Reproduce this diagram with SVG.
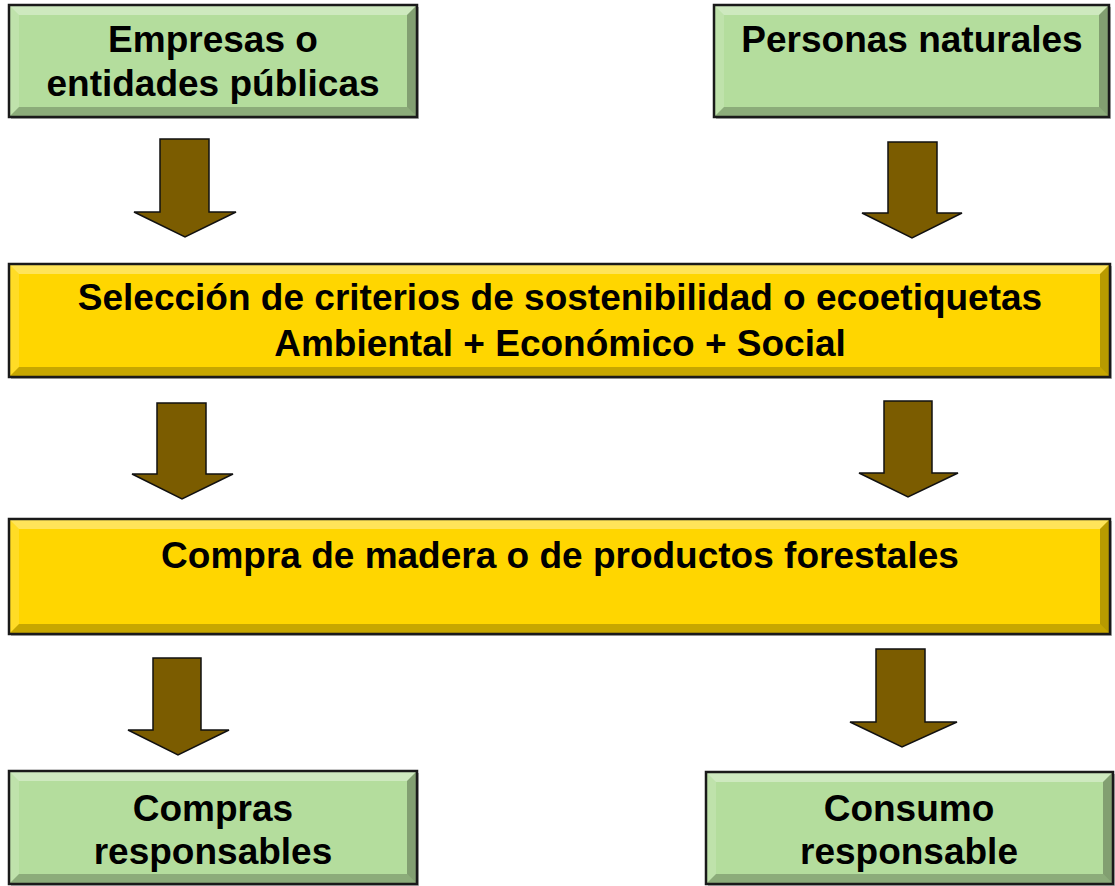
<svg xmlns="http://www.w3.org/2000/svg" width="1115" height="886" viewBox="0 0 1115 886">
<style>
.green{fill:#b4dd9d}
.yellow{fill:#ffd600}
.frame{fill:none;stroke:#1a1a1a;stroke-width:2.5}
.shadow{fill:#7f7f7f;opacity:.55}
.bt{fill:#ffffff;opacity:.35}
.bl{fill:#ffffff;opacity:.15}
.br{fill:#000000;opacity:.28}
.bb{fill:#000000;opacity:.22}
.lbl{font-family:"Liberation Sans",Arial,sans-serif;font-weight:bold;font-size:37px;fill:#000;text-anchor:middle}
.arrow{fill:#7b5c00;stroke:#111;stroke-width:1.5;stroke-linejoin:miter}
</style>
<rect width="1115" height="886" fill="#ffffff"/>
<g id="n1">
<rect class="shadow" x="11" y="7" width="408" height="112"/>
<rect class="green" x="9" y="5" width="408" height="112"/>
<polygon class="bt" points="9,5 417,5 407,15 19,15"/>
<polygon class="bl" points="9,5 19,15 19,107 9,117"/>
<polygon class="br" points="417,5 417,117 407,107 407,15"/>
<polygon class="bb" points="9,117 19,107 407,107 417,117"/>
<rect class="frame" x="9" y="5" width="408" height="112"/>
<text class="lbl" x="213" y="52">Empresas o</text>
<text class="lbl" x="213" y="96">entidades públicas</text>
</g>
<g id="n2">
<rect class="shadow" x="716" y="7" width="395" height="112"/>
<rect class="green" x="714" y="5" width="395" height="112"/>
<polygon class="bt" points="714,5 1109,5 1099,15 724,15"/>
<polygon class="bl" points="714,5 724,15 724,107 714,117"/>
<polygon class="br" points="1109,5 1109,117 1099,107 1099,15"/>
<polygon class="bb" points="714,117 724,107 1099,107 1109,117"/>
<rect class="frame" x="714" y="5" width="395" height="112"/>
<text class="lbl" x="912" y="52">Personas naturales</text>
</g>
<g id="n3">
<rect class="shadow" x="11" y="266" width="1101" height="113"/>
<rect class="yellow" x="9" y="264" width="1101" height="113"/>
<polygon class="bt" points="9,264 1110,264 1100,274 19,274"/>
<polygon class="bl" points="9,264 19,274 19,367 9,377"/>
<polygon class="br" points="1110,264 1110,377 1100,367 1100,274"/>
<polygon class="bb" points="9,377 19,367 1100,367 1110,377"/>
<rect class="frame" x="9" y="264" width="1101" height="113"/>
<text class="lbl" x="560" y="310">Selección de criterios de sostenibilidad o ecoetiquetas</text>
<text class="lbl" x="560" y="356">Ambiental + Económico + Social</text>
</g>
<g id="n4">
<rect class="shadow" x="11" y="521" width="1101" height="115"/>
<rect class="yellow" x="9" y="519" width="1101" height="115"/>
<polygon class="bt" points="9,519 1110,519 1100,529 19,529"/>
<polygon class="bl" points="9,519 19,529 19,624 9,634"/>
<polygon class="br" points="1110,519 1110,634 1100,624 1100,529"/>
<polygon class="bb" points="9,634 19,624 1100,624 1110,634"/>
<rect class="frame" x="9" y="519" width="1101" height="115"/>
<text class="lbl" x="560" y="568">Compra de madera o de productos forestales</text>
</g>
<g id="n5">
<rect class="shadow" x="11" y="773" width="408" height="113"/>
<rect class="green" x="9" y="771" width="408" height="113"/>
<polygon class="bt" points="9,771 417,771 407,781 19,781"/>
<polygon class="bl" points="9,771 19,781 19,874 9,884"/>
<polygon class="br" points="417,771 417,884 407,874 407,781"/>
<polygon class="bb" points="9,884 19,874 407,874 417,884"/>
<rect class="frame" x="9" y="771" width="408" height="113"/>
<text class="lbl" x="213" y="821">Compras</text>
<text class="lbl" x="213" y="864">responsables</text>
</g>
<g id="n6">
<rect class="shadow" x="708" y="774" width="407" height="112"/>
<rect class="green" x="706" y="772" width="407" height="112"/>
<polygon class="bt" points="706,772 1113,772 1103,782 716,782"/>
<polygon class="bl" points="706,772 716,782 716,874 706,884"/>
<polygon class="br" points="1113,772 1113,884 1103,874 1103,782"/>
<polygon class="bb" points="706,884 716,874 1103,874 1113,884"/>
<rect class="frame" x="706" y="772" width="407" height="112"/>
<text class="lbl" x="909" y="821">Consumo</text>
<text class="lbl" x="909" y="864">responsable</text>
</g>
<g id="connectors">
<polygon class="arrow" points="160,139 209,139 209,212 236,212 185,237 134,212 160,212"/>
<polygon class="arrow" points="888,142 937,142 937,213 962,213 912,238 862,213 888,213"/>
<polygon class="arrow" points="157,403 206,403 206,474 233,474 182,499 132,474 157,474"/>
<polygon class="arrow" points="884,401 932,401 932,473 958,473 908,497 859,473 884,473"/>
<polygon class="arrow" points="153,658 201,658 201,730 229,730 178,755 128,730 153,730"/>
<polygon class="arrow" points="876,649 925,649 925,722 957,722 902,747 850,722 876,722"/>
</g>
</svg>
